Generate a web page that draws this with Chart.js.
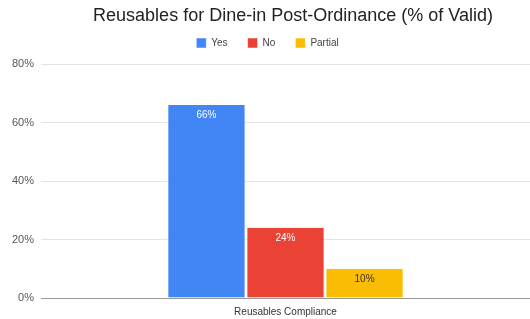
<!DOCTYPE html>
<html>
<head>
<meta charset="utf-8">
<script src="https://cdn.jsdelivr.net/npm/chart.js@4.4.1/dist/chart.umd.min.js"></script>
<style>
  html, body { margin: 0; padding: 0; background: #fff; }
  #wrap { width: 530px; height: 319px; position: relative; }
</style>
</head>
<body>
<div id="wrap"><canvas id="chart"></canvas></div>
<script>
const categories = ["Reusables Compliance"];
const seriesNames = ["Yes", "No", "Partial"];
const yesValues = [66];
const noValues = [24];
const partialValues = [10];
const yTicks = [0, 20, 40, 60, 80];

const colors = ["#4285F4", "#EA4335", "#FBBC04"];
const labelColors = ["#ffffff", "#ffffff", "#333333"];
const FONT = "'Liberation Sans', Arial, sans-serif";

// title drawn by hand so it can sit off-centre like the original
const titlePlugin = {
    id: "offsetTitle",
    afterDraw(chart) {
        const ctx = chart.ctx;
        ctx.save();
        ctx.font = "18px " + FONT;
        ctx.fillStyle = "#222222";
        ctx.textAlign = "center";
        ctx.textBaseline = "middle";
        ctx.fillText("Reusables for Dine-in Post-Ordinance (% of Valid)", 293, 16);
        ctx.restore();
    }
};

// extra room under the legend
const legendGap = {
    id: "legendGap",
    beforeInit(chart) {
        const fit = chart.legend.fit;
        chart.legend.fit = function () {
            fit.bind(chart.legend)();
            this.height += 6;
        };
    }
};

// value labels inside the top of each bar
const barLabels = {
    id: "barLabels",
    afterDatasetsDraw(chart) {
        const ctx = chart.ctx;
        ctx.save();
        ctx.font = "10px " + FONT;
        ctx.textAlign = "center";
        ctx.textBaseline = "middle";
        chart.data.datasets.forEach((ds, i) => {
            chart.getDatasetMeta(i).data.forEach((bar, j) => {
                ctx.fillStyle = labelColors[i];
                ctx.fillText(ds.data[j] + "%", bar.x, bar.y + 10);
            });
        });
        ctx.restore();
    }
};

const valueSets = [yesValues, noValues, partialValues];

new Chart(document.getElementById("chart"), {
    type: "bar",
    data: {
        labels: categories,
        datasets: seriesNames.map((name, i) => ({
            label: name,
            data: valueSets[i],
            backgroundColor: colors[i],
            borderColor: "#ffffff",
            borderWidth: { left: 1, right: 1 },
            borderSkipped: "bottom",
            categoryPercentage: 0.485,
            barPercentage: 0.99
        }))
    },
    options: {
        responsive: true,
        maintainAspectRatio: false,
        animation: false,
        layout: { padding: { top: 18, left: 5, right: 0, bottom: 1 } },
        plugins: {
            title: { display: false },
            tooltip: { enabled: false },
            legend: {
                position: "top",
                labels: {
                    boxWidth: 10,
                    boxHeight: 10,
                    padding: 20,
                    color: "#444444",
                    font: { family: FONT, size: 10 }
                }
            }
        },
        scales: {
            x: {
                grid: { display: false },
                border: { color: "#999999", width: 1 },
                ticks: {
                    color: "#333333",
                    padding: 0,
                    font: { family: FONT, size: 10 }
                }
            },
            y: {
                min: 0,
                max: 80,
                afterBuildTicks(axis) {
                    axis.ticks = yTicks.map(v => ({ value: v }));
                },
                border: { display: false },
                grid: {
                    drawTicks: false,
                    color: ctx => ctx.tick && ctx.tick.value === 0 ? "#999999" : "#e3e3e3"
                },
                ticks: {
                    color: "#555555",
                    padding: 7,
                    font: { family: FONT, size: 11 },
                    callback: v => v + "%"
                }
            }
        }
    },
    plugins: [titlePlugin, legendGap, barLabels]
});
</script>
</body>
</html>
